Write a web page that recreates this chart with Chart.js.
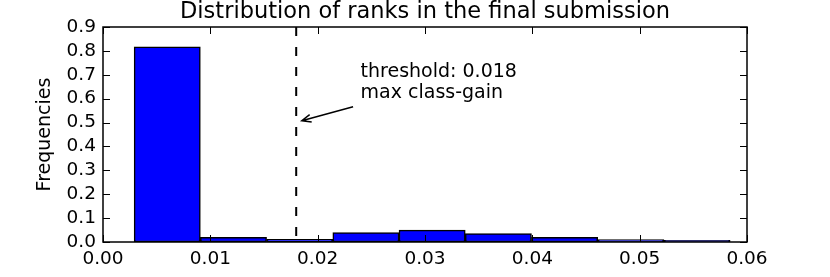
<!DOCTYPE html>
<html lang="en">
<head>
  <meta charset="UTF-8">
  <title>Distribution of ranks</title>
  <script src="https://cdn.jsdelivr.net/npm/chart.js"></script>
  <style>
    html, body { margin: 0; padding: 0; background: #fff; }
    #wrap { width: 830px; height: 277px; }
  </style>
</head>
<body>
<div id="wrap"><canvas id="hist" width="830" height="277"></canvas></div>
<script>
  // histogram bins (rank values) and relative frequencies
  const binEdges = [0.0029, 0.00907, 0.01524, 0.02141, 0.02758, 0.03375, 0.03992, 0.04609, 0.05226, 0.05843];
  const frequencies = [0.817, 0.020, 0.011, 0.039, 0.050, 0.035, 0.020, 0.010, 0.007];
  const xTicks = [0.00, 0.01, 0.02, 0.03, 0.04, 0.05, 0.06];
  const yTicks = [0.0, 0.1, 0.2, 0.3, 0.4, 0.5, 0.6, 0.7, 0.8, 0.9];
  const threshold = 0.018;
  const titleText = 'Distribution of ranks in the final submission';
  const noteLines = ['threshold: 0.018', 'max class-gain'];

  // annotation placement (data units)
  const note = { x: 0.0240, y: [0.6916, 0.6025], tail: [0.0233, 0.566], head: [0.01852, 0.5075] };

  const FONT = "'DejaVu Sans', sans-serif";

  const bars = frequencies.map((f, i) => ({ x: (binEdges[i] + binEdges[i + 1]) / 2, y: f }));

  // title over plot area, box frame, inward ticks, threshold line and arrow note
  const decor = {
    id: 'decor',
    afterDatasetsDraw(chart) {
      const { ctx, chartArea: a, scales: { x, y } } = chart;
      ctx.save();

      // title
      ctx.fillStyle = '#000';
      ctx.font = '22.5px ' + FONT;
      ctx.textAlign = 'center';
      ctx.textBaseline = 'alphabetic';
      ctx.fillText(titleText, (a.left + a.right) / 2, 17.5);

      // dashed threshold
      const tx = x.getPixelForValue(threshold);
      ctx.strokeStyle = '#000';
      ctx.lineWidth = 2;
      ctx.setLineDash([9, 11]);
      ctx.beginPath();
      ctx.moveTo(tx, a.top);
      ctx.lineTo(tx, a.bottom);
      ctx.stroke();
      ctx.setLineDash([]);

      // frame
      ctx.lineWidth = 1.5;
      ctx.strokeRect(a.left, a.top, a.right - a.left, a.bottom - a.top);

      // ticks inside on all sides
      ctx.lineWidth = 1;
      const len = 7;
      ctx.beginPath();
      xTicks.forEach(v => {
        const px = Math.round(x.getPixelForValue(v)) + 0.5;
        ctx.moveTo(px, a.bottom); ctx.lineTo(px, a.bottom - len);
        ctx.moveTo(px, a.top); ctx.lineTo(px, a.top + len);
      });
      yTicks.forEach(v => {
        const py = Math.round(y.getPixelForValue(v)) + 0.5;
        ctx.moveTo(a.left, py); ctx.lineTo(a.left + len, py);
        ctx.moveTo(a.right, py); ctx.lineTo(a.right - len, py);
      });
      ctx.stroke();

      // note text
      ctx.font = '19px ' + FONT;
      ctx.textAlign = 'left';
      noteLines.forEach((t, i) => {
        ctx.fillText(t, x.getPixelForValue(note.x), y.getPixelForValue(note.y[i]));
      });

      // arrow
      const x0 = x.getPixelForValue(note.tail[0]), y0 = y.getPixelForValue(note.tail[1]);
      const x1 = x.getPixelForValue(note.head[0]), y1 = y.getPixelForValue(note.head[1]);
      const ang = Math.atan2(y1 - y0, x1 - x0);
      ctx.lineWidth = 1.5;
      ctx.beginPath();
      ctx.moveTo(x0, y0);
      ctx.lineTo(x1, y1);
      ctx.moveTo(x1 - 10 * Math.cos(ang - 0.4), y1 - 10 * Math.sin(ang - 0.4));
      ctx.lineTo(x1, y1);
      ctx.lineTo(x1 - 10 * Math.cos(ang + 0.4), y1 - 10 * Math.sin(ang + 0.4));
      ctx.stroke();

      ctx.restore();
    }
  };

  new Chart(document.getElementById('hist'), {
    type: 'bar',
    data: {
      datasets: [{
        data: bars,
        backgroundColor: '#0000ff',
        borderColor: '#000',
        borderWidth: 1.5,
        borderSkipped: false,
        barPercentage: 1.0,
        categoryPercentage: 1.0
      }]
    },
    options: {
      responsive: false,
      animation: false,
      layout: { padding: { left: 0, right: 83, top: 27, bottom: 0 } },
      plugins: {
        legend: { display: false },
        tooltip: { enabled: false },
        title: { display: false }
      },
      scales: {
        x: {
          type: 'linear',
          min: 0,
          max: 0.06,
          offset: false,
          grid: { display: false, offset: false, drawTicks: false },
          border: { display: false },
          afterBuildTicks: s => { s.ticks = xTicks.map(v => ({ value: v })); },
          afterFit: s => { s.height = 35; },
          ticks: {
            color: '#000',
            padding: 6,
            maxRotation: 0,
            autoSkip: false,
            font: { family: FONT, size: 18.5 },
            callback: v => Number(v).toFixed(2)
          }
        },
        y: {
          min: 0,
          max: 0.9,
          grid: { display: false, drawTicks: false },
          border: { display: false },
          afterBuildTicks: s => { s.ticks = yTicks.map(v => ({ value: v })); },
          afterFit: s => { s.width = 103; },
          title: {
            display: true,
            text: 'Frequencies',
            color: '#000',
            font: { family: FONT, size: 19 },
            padding: { top: 34, bottom: 0 }
          },
          ticks: {
            color: '#000',
            padding: 7,
            autoSkip: false,
            font: { family: FONT, size: 18.5 },
            callback: v => Number(v).toFixed(1)
          }
        }
      }
    },
    plugins: [decor]
  });
</script>
</body>
</html>
